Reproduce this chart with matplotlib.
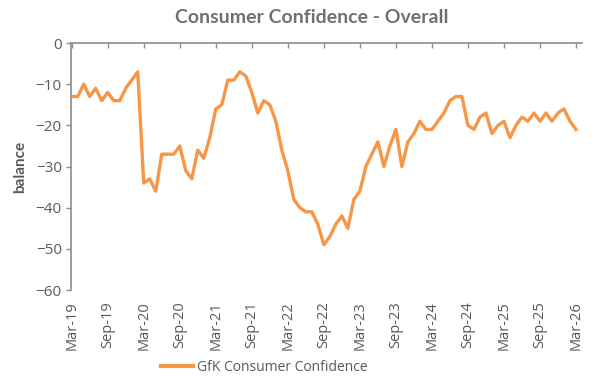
import matplotlib
matplotlib.use('Agg')
import matplotlib.pyplot as plt
import numpy as np

# GfK consumer confidence, monthly Mar-19 .. Mar-26
y2019 = [-13, -13, -10, -13, -11, -14, -12, -14, -14, -11]  # Mar-Dec
y2020 = [-9, -7, -34, -33, -36, -27, -27, -27, -25, -31, -33, -26]
y2021 = [-28, -23, -16, -15, -9, -9, -7, -8, -12, -17, -14, -15]
y2022 = [-19, -26, -31, -38, -40, -41, -41, -44, -49, -47, -44, -42]
y2023 = [-45, -38, -36, -30, -27, -24, -30, -25, -21, -30, -24, -22]
y2024 = [-19, -21, -21, -19, -17, -14, -13, -13, -20, -21, -18, -17]
y2025 = [-22, -20, -19, -23, -20, -18, -19, -17, -19, -17, -19, -17]
y2026 = [-16, -19, -21]  # Jan-Mar

confidence = y2019 + y2020 + y2021 + y2022 + y2023 + y2024 + y2025 + y2026
tick_labels = ['Mar-19', 'Sep-19', 'Mar-20', 'Sep-20', 'Mar-21', 'Sep-21', 'Mar-22',
               'Sep-22', 'Mar-23', 'Sep-23', 'Mar-24', 'Sep-24', 'Mar-25', 'Sep-25', 'Mar-26']

grey = '#595959'
axis_grey = '#8c8c8c'
orange = '#F79646'

months = np.arange(len(confidence))

fig = plt.figure(figsize=(6, 3.87), dpi=100)
ax = fig.add_axes([0.118, 0.2506, 0.852, 0.6382])

ax.plot(months, confidence, color=orange, linewidth=2.4, label='GfK Consumer Confidence',
        solid_joinstyle='round')

ax.set_xlim(-0.15, 85)
ax.set_ylim(-60, 0)
ax.set_yticks(range(-60, 1, 10))
ax.set_xticks(np.arange(0, len(confidence), 6))
ax.set_xticklabels(tick_labels, rotation=90, fontfamily='Open Sans', fontsize=10.5, color=grey)
for lab in ax.get_yticklabels():
    lab.set_fontfamily('Open Sans')
ax.tick_params(axis='y', direction='out', length=3.5, width=1, color=axis_grey,
               labelsize=11, labelcolor=grey, pad=3)
ax.tick_params(axis='x', bottom=False, top=True, direction='in', length=3.8, width=1,
               color=axis_grey, labelbottom=True, labeltop=False, pad=8)

ax.spines['bottom'].set_visible(False)
ax.spines['right'].set_visible(False)
ax.spines['top'].set_color(axis_grey)
ax.spines['left'].set_color(axis_grey)
ax.spines['top'].set_linewidth(1.2)
ax.spines['left'].set_linewidth(1.2)

ax.set_ylabel('balance', fontfamily='Lato', fontweight='bold', fontsize=11, color=grey, labelpad=6)
fig.text(0.52, 0.955, 'Consumer Confidence - Overall', ha='center', va='center',
         fontfamily='Lato', fontweight='bold', fontsize=14, color='#707070')

leg = fig.legend(loc='center', bbox_to_anchor=(0.44, 0.05), frameon=False,
                 prop={'family': 'Open Sans', 'size': 10}, handlelength=2.3,
                 handletextpad=0.3)
for t in leg.get_texts():
    t.set_color(grey)
for h in leg.get_lines():
    h.set_linewidth(3)

fig.savefig('out.png', dpi=100)
